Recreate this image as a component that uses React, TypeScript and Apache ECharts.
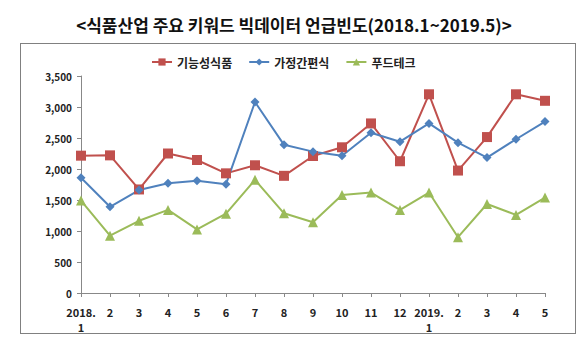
import React, { useEffect, useRef } from "react";
import * as echarts from "echarts";

const categories = ["2018.\n1", "2", "3", "4", "5", "6", "7", "8", "9", "10", "11", "12", "2019.\n1", "2", "3", "4", "5"];
const functionalFood = [2215, 2220, 1670, 2250, 2145, 1930, 2060, 1890, 2210, 2350, 2735, 2125, 3205, 1975, 2515, 3205, 3100];
const hmr = [1860, 1390, 1660, 1770, 1810, 1755, 3080, 2390, 2280, 2215, 2585, 2440, 2735, 2425, 2185, 2480, 2765];
const foodTech = [1490, 925, 1165, 1340, 1025, 1280, 1825, 1285, 1140, 1580, 1620, 1340, 1620, 900, 1435, 1260, 1540];
const seriesNames = ["기능성식품", "가정간편식", "푸드테크"];
const titleText = "<식품산업 주요 키워드 빅데이터 언급빈도(2018.1~2019.5)>";

export default function App() {
  const ref = useRef<HTMLDivElement>(null);
  useEffect(() => {
    const chart = echarts.init(ref.current!, null, { renderer: "svg" });
    const font = "'Noto Sans CJK KR', 'Noto Sans', sans-serif";
    const mk = (name: string, data: number[], color: string, symbol: string, size: number) => ({
      name,
      type: "line",
      data,
      symbol,
      symbolSize: size,
      lineStyle: { color, width: 2 },
      itemStyle: { color },
    });
    chart.setOption({
      animation: false,
      backgroundColor: "#fff",
      textStyle: { fontFamily: font },
      title: {
        text: titleText,
        left: "center",
        top: 11,
        textStyle: { fontSize: 17, fontWeight: "bold", color: "#111", fontFamily: font },
      },
      legend: {
        top: 51,
        left: 146,
        itemWidth: 20,
        itemHeight: 9,
        itemGap: 16,
        textStyle: { fontSize: 12, fontWeight: "bold", color: "#222" },
        data: seriesNames,
      },
      graphic: [
        {
          type: "rect",
          shape: { x: 20.5, y: 43.5, width: 555, height: 290 },
          style: { fill: "none", stroke: "#000", lineWidth: 1, lineDash: [1, 1] },
          silent: true,
        },
      ],
      grid: { left: 81, right: 43, top: 76, bottom: 59 },
      xAxis: {
        type: "category",
        data: categories,
        boundaryGap: false,
        axisLine: { lineStyle: { color: "#888" } },
        axisTick: { alignWithLabel: true, length: 4, lineStyle: { color: "#888" } },
        axisLabel: { fontSize: 11, fontWeight: "bold", color: "#222", margin: 11, lineHeight: 15, interval: 0 },
      },
      yAxis: {
        type: "value",
        min: 0,
        max: 3500,
        interval: 500,
        splitLine: { show: false },
        axisLine: { show: true, lineStyle: { color: "#888" } },
        axisTick: { show: true, length: 4, lineStyle: { color: "#888" } },
        axisLabel: {
          fontSize: 10,
          fontWeight: "bold",
          color: "#222",
          margin: 9,
          formatter: (v: number) => v.toLocaleString("en-US"),
        },
      },
      series: [
        mk(seriesNames[0], functionalFood, "#C0504D", "rect", 10),
        mk(seriesNames[1], hmr, "#4F81BD", "diamond", 9),
        mk(seriesNames[2], foodTech, "#9BBB59", "triangle", 10),
      ],
    });
    return () => chart.dispose();
  }, []);
  return <div ref={ref} style={{ position: "fixed", left: 0, top: 0, width: 588, height: 352 }} />;
}
